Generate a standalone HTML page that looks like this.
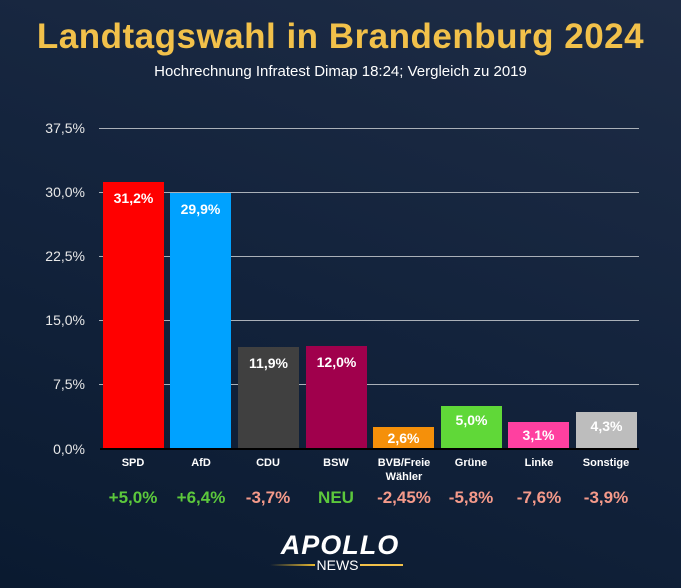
<!DOCTYPE html>
<html><head><meta charset="utf-8"><style>
body{margin:0;width:681px;height:588px;overflow:hidden;font-family:"Liberation Sans",sans-serif;
background:linear-gradient(20deg,#0a1a30 0%,#13233c 50%,#1e2c45 100%);position:relative;color:#fff}
.a{position:absolute}
.t{left:0;width:681px;text-align:center;top:17px;font-size:35px;font-weight:bold;color:#f2c14a;letter-spacing:0.5px}
.s{left:0;width:681px;text-align:center;top:63px;font-size:15px;color:#fff}
.g{left:99px;width:540px;height:1px;background:#aab0b8}
.y{width:85px;left:0;text-align:right;font-size:14px;color:#e8e8e8}
.b{width:61px;text-align:center;font-size:14px;font-weight:bold;color:#fff;box-sizing:border-box;padding-top:8px;line-height:16px}
.c{width:80px;text-align:center;font-size:11px;font-weight:bold;top:456px;line-height:14px}
.d{width:80px;text-align:center;font-size:17px;font-weight:bold;top:488px}
</style></head><body>
<div class="a t">Landtagswahl in Brandenburg 2024</div>
<div class="a s">Hochrechnung Infratest Dimap 18:24; Vergleich zu 2019</div>
<div class="a g" style="top:128px"></div>
<div class="a g" style="top:192px"></div>
<div class="a g" style="top:256px"></div>
<div class="a g" style="top:320px"></div>
<div class="a g" style="top:384px"></div>
<div class="a y" style="top:120px">37,5%</div>
<div class="a y" style="top:184px">30,0%</div>
<div class="a y" style="top:248px">22,5%</div>
<div class="a y" style="top:312px">15,0%</div>
<div class="a y" style="top:376px">7,5%</div>
<div class="a y" style="top:441px">0,0%</div>

<div class="a b" style="left:103px;top:182px;height:267px;background:#ff0000">31,2%</div>
<div class="a b" style="left:170px;top:193px;height:256px;background:#00a2ff">29,9%</div>
<div class="a b" style="left:238px;top:347px;height:102px;background:#404040">11,9%</div>
<div class="a b" style="left:306px;top:346px;height:103px;background:#a0004c">12,0%</div>
<div class="a b" style="left:373px;top:427px;height:22px;background:#f5900a;padding-top:3px">2,6%</div>
<div class="a b" style="left:441px;top:406px;height:43px;background:#60d838;padding-top:6px">5,0%</div>
<div class="a b" style="left:508px;top:422px;height:27px;background:#ff40a0;padding-top:5px">3,1%</div>
<div class="a b" style="left:576px;top:412px;height:37px;background:#bdbdbd;padding-top:6px">4,3%</div>
<div class="a" style="left:100px;top:448px;width:539px;height:2px;background:#000"></div>

<div class="a c" style="left:93px">SPD</div>
<div class="a c" style="left:161px">AfD</div>
<div class="a c" style="left:228px">CDU</div>
<div class="a c" style="left:296px">BSW</div>
<div class="a c" style="left:364px">BVB/Freie<br>Wähler</div>
<div class="a c" style="left:431px">Grüne</div>
<div class="a c" style="left:499px">Linke</div>
<div class="a c" style="left:566px">Sonstige</div>

<div class="a d" style="left:93px;color:#5cc83c">+5,0%</div>
<div class="a d" style="left:161px;color:#5cc83c">+6,4%</div>
<div class="a d" style="left:228px;color:#f59a8a">-3,7%</div>
<div class="a d" style="left:296px;color:#5cc83c">NEU</div>
<div class="a d" style="left:364px;color:#f59a8a">-2,45%</div>
<div class="a d" style="left:431px;color:#f59a8a">-5,8%</div>
<div class="a d" style="left:499px;color:#f59a8a">-7,6%</div>
<div class="a d" style="left:566px;color:#f59a8a">-3,9%</div>

<div class="a" style="left:270px;top:530px;width:140px;text-align:center;font-size:27px;font-weight:900;font-style:italic;color:#fff;letter-spacing:1px">APOLLO</div>
<div class="a" style="left:270px;top:564px;width:45px;height:2px;background:linear-gradient(90deg,rgba(240,190,60,0),#e8b830)"></div>
<div class="a" style="left:360px;top:564px;width:43px;height:2px;background:#f2c14a"></div>
<div class="a" style="left:315px;top:557px;width:45px;text-align:center;font-size:14px;color:#fff">NEWS</div>
</body></html>
